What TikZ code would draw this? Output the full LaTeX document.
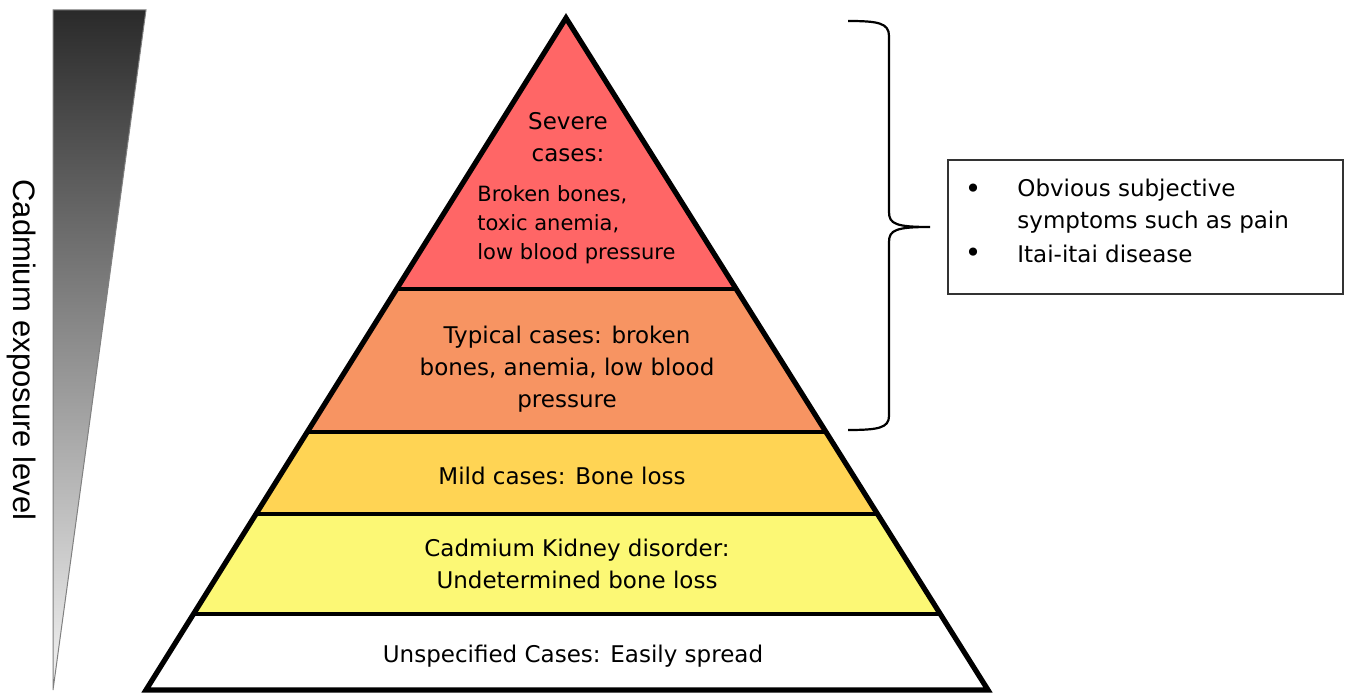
\documentclass[tikz,border=0pt]{standalone}
\usepackage{fontspec}
\setmainfont{DejaVu Sans}
\newfontfamily\labfont{Liberation Sans}
\definecolor{sevred}{HTML}{FF6666}
\definecolor{typor}{HTML}{F79462}
\definecolor{mildyl}{HTML}{FFD454}
\definecolor{kidyl}{HTML}{FCF875}
\definecolor{gtop}{HTML}{2A2A2A}
\definecolor{gmid}{HTML}{656161}
\definecolor{gbot}{HTML}{F4F4F4}
\tikzset{
  txt/.style={inner sep=0pt, align=center, font=\fontsize{11.5}{16}\selectfont},
  smalltxt/.style={inner sep=0pt, align=left, font=\fontsize{10.5}{14.6}\selectfont},
  bullettxt/.style={inner sep=0pt, font=\fontsize{14}{16}\selectfont},
  sep/.style={line width=1.6pt},
  outline/.style={line width=2.6pt, line join=miter},
  bracestyle/.style={line width=1.1pt},
  boxstyle/.style={draw=black!80, line width=0.7pt, minimum width=197.5pt, minimum height=67pt, inner sep=0pt},
}
\begin{document}
\begin{tikzpicture}[x=0.5pt,y=-0.5pt]
\useasboundingbox (0,0) rectangle (1349,694);
% gradient wedge
\shade[top color=gtop, middle color=gmid, bottom color=gbot] (53,10) -- (146,10) -- (53,690) -- cycle;
\draw[gray, line width=0.5pt] (53,690) -- (53,10) -- (146,10) -- cycle;
\node[inner sep=0pt, rotate=-90, font=\labfont\fontsize{15.5}{18}\selectfont] (lab) at (22,350) {Cadmium exposure level};
% bands
\fill[sevred] (566,18) -- (736.2,289) -- (396.6,289) -- cycle;
\fill[typor] (396.6,289) -- (736.2,289) -- (826,432) -- (307.25,432) -- cycle;
\fill[mildyl] (307.25,432) -- (826,432) -- (877.5,514) -- (256,514) -- cycle;
\fill[kidyl] (256,514) -- (877.5,514) -- (940.3,614) -- (193.5,614) -- cycle;
\fill[white] (193.5,614) -- (940.3,614) -- (988,690) -- (146,690) -- cycle;
\draw[sep] (396.6,289) -- (736.2,289);
\draw[sep] (307.25,432) -- (826,432);
\draw[sep] (256,514) -- (877.5,514);
\draw[sep] (193.5,614) -- (940.3,614);
\draw[outline] (566,18) -- (988,690) -- (146,690) -- cycle;
% texts
\node[txt] (sev) at (568,137) {Severe\\cases:};
\node[smalltxt, anchor=west] (sevd) at (477,225) {Broken bones,\\toxic anemia,\\low blood pressure};
\node[txt] (typ) at (567,369) {Typical cases: broken\\bones, anemia, low blood\\pressure};
\node[txt] (mild) at (562,476) {Mild cases: Bone loss};
\node[txt] (kid) at (577,564) {Cadmium Kidney disorder:\\Undetermined bone loss};
\node[txt] (uns) at (573,656) {Unspecified Cases: Easily spread};
% brace
\coordinate (btop) at (848,21);
\coordinate (tip) at (930,227);
\coordinate (bbot) at (848,430);
\draw[bracestyle] (btop) .. controls (878,21) and (889,23) .. (889,36) -- (889,212)
  .. controls (889,224) and (896,227) .. (tip)
  .. controls (896,227) and (889,230) .. (889,242) -- (889,416)
  .. controls (889,428) and (878,430) .. (bbot);
% box
\node[boxstyle, draw] (box) at (1145.5,227) {};
\node[bullettxt] (b1) at (973,191) {\textbullet};
\node[bullettxt] (b2) at (973,255) {\textbullet};
\node[txt, anchor=west, align=left] (t1) at (1017,206) {Obvious subjective\\symptoms such as pain};
\node[txt, anchor=west, align=left] (t2) at (1017,254) {Itai-itai disease};
\end{tikzpicture}
\end{document}
